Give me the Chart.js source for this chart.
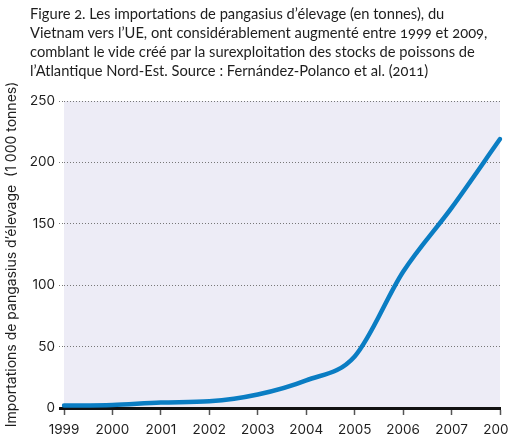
<!DOCTYPE html>
<html>
<head>
<meta charset="utf-8">
<script src="https://cdn.jsdelivr.net/npm/chart.js@4"></script>
<style>
  html, body { margin: 0; padding: 0; background: #fff; overflow: hidden; }
  #wrap { position: relative; width: 525px; height: 435px; }
  #caption {
    position: absolute; left: 30px; top: 4px; z-index: 2;
    font-family: Lato, "Open Sans", sans-serif; font-size: 14.7px; line-height: 19px;
    color: #1e1e1e; font-feature-settings: "onum" 1;
  }
  #caption div { white-space: nowrap; }
  #clip { position: absolute; left: 0; top: 0; width: 508px; height: 435px; overflow: hidden; }
</style>
</head>
<body>
<div id="wrap">
  <div id="clip"><canvas id="chart" width="525" height="435"></canvas></div>
  <div id="caption">
    <div>Figure 2. Les importations de pangasius d’élevage (en tonnes), du</div>
    <div>Vietnam vers l’UE, ont considérablement augmenté entre 1999 et 2009,</div>
    <div>comblant le vide créé par la surexploitation des stocks de poissons de</div>
    <div>l’Atlantique Nord-Est. Source : Fernández-Polanco et al. (2011)</div>
  </div>
</div>
<script>
// years on the x axis
const years = ['1999', '2000', '2001', '2002', '2003', '2004', '2005', '2006', '2007', '2008'];
// imports, thousand tonnes
const imports = [2, 2.5, 4.5, 5.5, 11, 22.5, 42, 111, 163, 219];
const yTicks = [0, 50, 100, 150, 200, 250];

const yTitle = 'Importations de pangasius d’élevage  (1 000 tonnes)';
const tickFont = { family: 'Inter, Roboto, sans-serif', size: 13.5 };

// lavender plot background
const plotBg = {
  id: 'plotBg',
  beforeDraw(chart) {
    const a = chart.chartArea, c = chart.ctx;
    c.save();
    c.fillStyle = '#edecf6';
    c.fillRect(a.left, a.top, a.right - a.left, a.bottom - a.top);
    c.restore();
  }
};

const isZero = ctx => ctx.tick && ctx.tick.value === 0;

new Chart(document.getElementById('chart'), {
  type: 'line',
  data: {
    labels: years,
    datasets: [{
      data: imports,
      borderColor: '#0a7dc3',
      borderWidth: 4.5,
      borderCapStyle: 'round',
      pointRadius: 0,
      cubicInterpolationMode: 'monotone',
      fill: false
    }]
  },
  options: {
    responsive: false,
    animation: false,
    layout: { padding: { top: 101, right: 25, left: 0, bottom: 0 } },
    plugins: { legend: { display: false }, tooltip: { enabled: false } },
    scales: {
      x: {
        grid: { drawOnChartArea: false, tickLength: 7, tickColor: '#555', tickWidth: 1.5 },
        border: { color: '#111', width: 3 },
        ticks: { color: '#1e1e1e', font: tickFont, padding: 7, maxRotation: 0, autoSkip: false },
        afterFit: s => { s.height = 27; }
      },
      y: {
        min: 0, max: 250,
        afterBuildTicks: s => { s.ticks = yTicks.map(v => ({ value: v })); },
        grid: {
          color: ctx => isZero(ctx) ? '#111' : '#777',
          lineWidth: ctx => isZero(ctx) ? 3 : 1,
          tickLength: 5,
          tickBorderDash: ctx => isZero(ctx) ? [] : [1, 2]
        },
        border: { display: false, dash: ctx => isZero(ctx) ? [] : [1, 2] },
        ticks: { color: '#1e1e1e', font: tickFont, padding: 4 },
        title: {
          display: true, text: yTitle, color: '#1e1e1e',
          font: { family: 'Inter, Roboto, sans-serif', size: 14 },
          padding: { top: 3, bottom: 0 }
        },
        afterFit: s => { s.width = 64; }
      }
    }
  },
  plugins: [plotBg]
});
</script>
</body>
</html>
